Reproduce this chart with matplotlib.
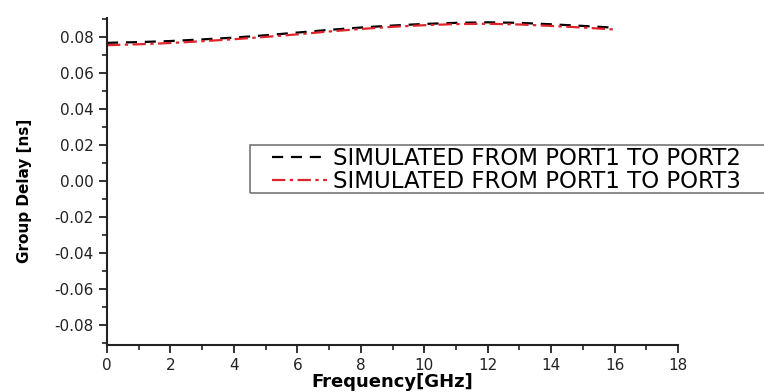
import numpy as np
import matplotlib.pyplot as plt
from matplotlib.patches import Rectangle

# frequency in GHz, group delay in ns
freq = [0, 1, 2, 3, 4, 5, 6, 7, 8, 9, 10, 11, 12, 13, 14, 15, 16]
gd_port2 = [0.0768, 0.0772, 0.0778, 0.0787, 0.0797, 0.0810, 0.0825, 0.0840, 0.0853,
            0.0864, 0.0873, 0.0879, 0.0882, 0.0879, 0.0871, 0.0862, 0.0852]
gd_port3 = [0.0755, 0.0760, 0.0767, 0.0777, 0.0788, 0.0801, 0.0815, 0.0831, 0.0845,
            0.0857, 0.0866, 0.0872, 0.0874, 0.0870, 0.0862, 0.0853, 0.0842]

xticks = [0, 2, 4, 6, 8, 10, 12, 14, 16, 18]
yticks = [-0.08, -0.06, -0.04, -0.02, 0.00, 0.02, 0.04, 0.06, 0.08]

W, H = 764, 392
fig = plt.figure(figsize=(W / 100, H / 100), dpi=100)
ax = fig.add_axes([107 / W, 1 - 345 / H, 571 / W, 327 / H])

ax.plot(freq, gd_port2, color='black', linestyle=(0, (5, 3.5)), linewidth=1.6,
        label='SIMULATED FROM PORT1 TO PORT2')
ax.plot(freq, gd_port3, color='#e0242b', linestyle=(0, (6, 2, 1.5, 2)), linewidth=1.6,
        label='SIMULATED FROM PORT1 TO PORT3')

ax.set_xlim(0, 18)
ax.set_ylim(-0.0911, 0.0906)
ax.set_xticks(xticks)
ax.set_yticks(yticks)
ax.set_xticks(np.arange(1, 18, 2), minor=True)
ax.set_yticks(np.arange(-0.09, 0.095, 0.02), minor=True)
ax.set_yticklabels(['%.2f' % v for v in yticks])

for s in ['top', 'right']:
    ax.spines[s].set_visible(False)
for s in ['left', 'bottom']:
    ax.spines[s].set_linewidth(1.5)
    ax.spines[s].set_color('#222222')

ax.tick_params(which='major', direction='out', length=6, width=1.3, labelsize=11,
               colors='#222222')
ax.tick_params(which='minor', direction='out', length=3.5, width=1.2, colors='#222222')

ax.set_xlabel('Frequency[GHz]', fontsize=13, fontweight='bold', labelpad=0)
ax.set_ylabel('Group Delay [ns]', fontsize=11, fontweight='bold')
ax.yaxis.set_label_coords(-0.131, 0.47)

# legend box runs off the right edge in the original
fig.patches.append(Rectangle((250 / W, 1 - 193 / H), 530 / W, 48 / H,
                             transform=fig.transFigure, fill=False,
                             edgecolor='#777777', linewidth=1.2))
leg = ax.legend(loc='upper left', bbox_to_anchor=(272 / W, 1 - 147 / H),
                bbox_transform=fig.transFigure, fontsize=16.5, frameon=False,
                handlelength=2.4, handletextpad=0.25, borderpad=0,
                labelspacing=0.0, borderaxespad=0)

fig.savefig('out.png', dpi=100)
